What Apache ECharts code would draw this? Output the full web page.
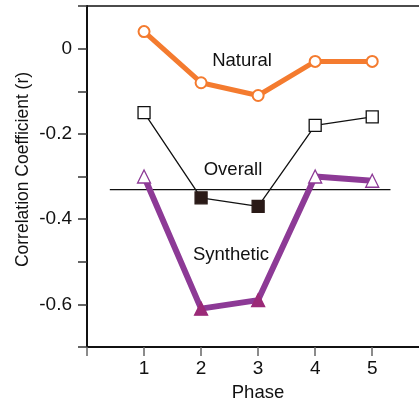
<!DOCTYPE html>
<html>
<head>
<meta charset="utf-8">
<script src="https://cdn.jsdelivr.net/npm/echarts@6/dist/echarts.min.js"></script>
<style>
  html, body { margin: 0; padding: 0; background: #fff; }
  #chart { width: 419px; height: 404px; }
</style>
</head>
<body>
<div id="chart"></div>
<script>
// data
var phases = [1, 2, 3, 4, 5];
var natural = [0.04, -0.08, -0.11, -0.03, -0.03];
var overall = [-0.15, -0.35, -0.37, -0.18, -0.16];
var synthetic = [-0.30, -0.61, -0.59, -0.30, -0.31];
var filled = [false, true, true, false, false];   // filled markers at phases 2, 3
var overallLine = [[0.4, -0.331], [5.32, -0.331]];

var FONT = 'Liberation Sans';
var orange = '#f47b2f';
var purple = '#8d3a96';
var magenta = '#9b2a78';

function pts(vals, fillCol, edgeCol) {
  var out = [];
  for (var i = 0; i < phases.length; i++) {
    out.push({
      value: [phases[i], vals[i]],
      itemStyle: {
        color: filled[i] ? fillCol : '#fff',
        borderColor: filled[i] ? fillCol : edgeCol
      }
    });
  }
  return out;
}

var naturalPts = [];
for (var i = 0; i < phases.length; i++) naturalPts.push([phases[i], natural[i]]);

function label(text, x, y, rot) {
  return {
    type: 'text', x: x, y: y, rotation: rot || 0,
    style: {
      text: text, fill: '#111', font: '18.5px "Liberation Sans"',
      textAlign: 'center', textVerticalAlign: 'middle'
    }
  };
}

var myChart = echarts.init(document.getElementById('chart'));
var option = {
  animation: false,
  textStyle: { fontFamily: FONT },
  grid: { left: 87, right: 0, top: 6, bottom: 57 },
  xAxis: [{
    type: 'value',
    min: 0,
    max: 5.82,
    interval: 1,
    axisLine: { onZero: false, lineStyle: { color: '#111', width: 2 } },
    axisTick: { show: true, length: 9, lineStyle: { color: '#666', width: 1.5 } },
    axisLabel: {
      margin: 12, fontSize: 19, color: '#111', fontFamily: FONT, showMaxLabel: false,
      formatter: function (v) { return (v === 0 || v % 1 !== 0) ? '' : String(v); }
    },
    splitLine: { show: false }
  }, {
    type: 'value',
    position: 'top',
    min: 0,
    max: 5.82,
    axisLine: { show: true, onZero: false, lineStyle: { color: '#111', width: 1.5 } },
    axisTick: { show: false },
    axisLabel: { show: false },
    splitLine: { show: false }
  }],
  yAxis: {
    type: 'value',
    min: -0.7,
    max: 0.1,
    interval: 0.1,
    axisLine: { show: true, onZero: false, lineStyle: { color: '#111', width: 2 } },
    axisTick: { show: true, length: 9, lineStyle: { color: '#333', width: 1.5 } },
    axisLabel: {
      margin: 15, fontSize: 19, color: '#111', fontFamily: FONT,
      formatter: function (v) {
        var k = Math.round(v * 10);
        if (k > 0 || k % 2 !== 0) return '';
        return k === 0 ? '0' : (k / 10).toFixed(1);
      }
    },
    splitLine: { show: false }
  },
  graphic: [
    label('Natural', 242, 61),
    label('Overall', 233, 170),
    label('Synthetic', 231, 255),
    label('Phase', 258, 393),
    {
      type: 'text', x: 23.5, y: 169.5, rotation: Math.PI / 2,
      style: {
        text: 'Correlation Coefficient (r)', fill: '#111', font: '17.5px "Liberation Sans"',
        textAlign: 'center', textVerticalAlign: 'middle'
      }
    }
  ],
  series: [{
    name: 'overall ref',
    type: 'line',
    data: overallLine,
    symbol: 'none',
    lineStyle: { color: '#111', width: 1.2 },
    z: 1
  }, {
    name: 'Overall',
    type: 'line',
    data: pts(overall, '#2a1a17', '#111'),
    symbol: 'rect',
    symbolSize: 12,
    lineStyle: { color: '#111', width: 1.3 },
    itemStyle: { borderWidth: 1.3 },
    z: 2
  }, {
    name: 'Synthetic',
    type: 'line',
    data: pts(synthetic, magenta, purple),
    symbol: 'triangle',
    symbolSize: 13,
    lineStyle: { color: purple, width: 6 },
    itemStyle: { borderWidth: 1.3 },
    z: 3
  }, {
    name: 'Natural',
    type: 'line',
    data: naturalPts,
    symbol: 'circle',
    symbolSize: 11,
    lineStyle: { color: orange, width: 5 },
    itemStyle: { color: '#fff', borderColor: orange, borderWidth: 2 },
    z: 4
  }]
};
myChart.setOption(option);
</script>
</body>
</html>
